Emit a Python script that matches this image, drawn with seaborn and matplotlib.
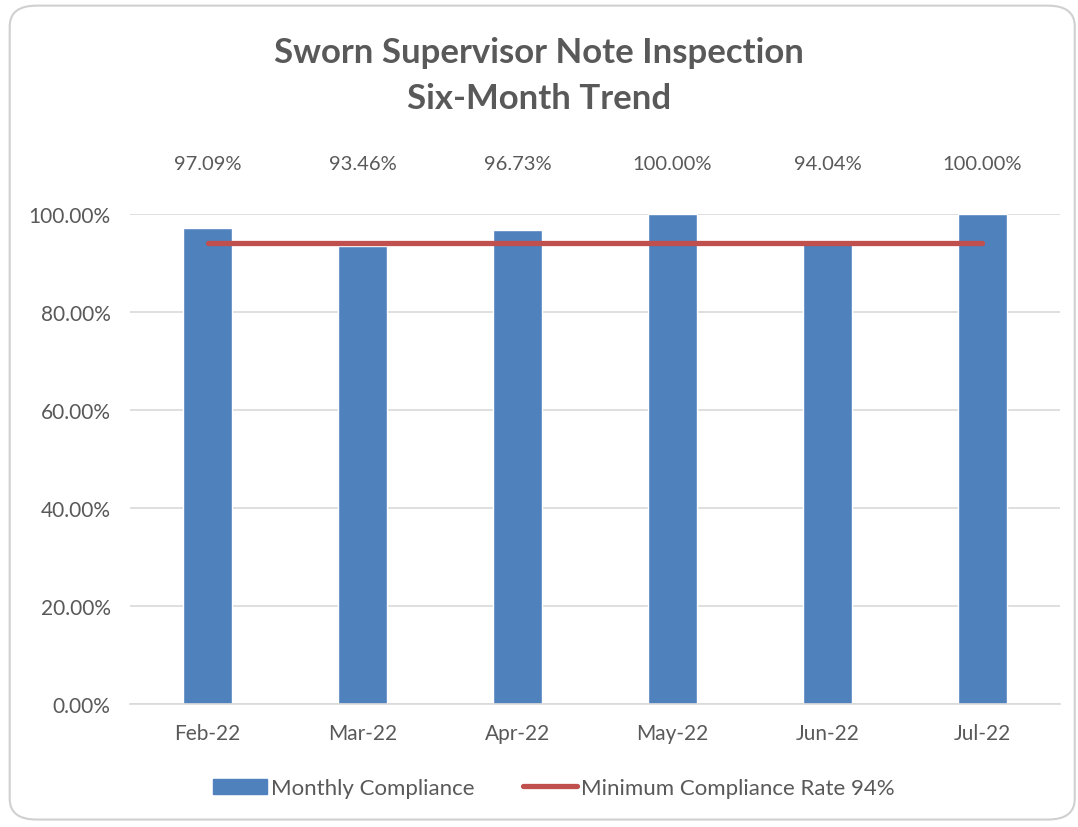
"""
Sworn Supervisor Note Inspection - six-month compliance trend.
"""
import matplotlib
matplotlib.use("Agg")
import matplotlib.pyplot as plt
from matplotlib.patches import FancyBboxPatch, Patch
from matplotlib.lines import Line2D
from matplotlib.ticker import PercentFormatter
import seaborn as sns

months = ["Feb-22", "Mar-22", "Apr-22", "May-22", "Jun-22", "Jul-22"]
compliance = [97.09, 93.46, 96.73, 100.00, 94.04, 100.00]
minimum_rate = [94.0, 94.0, 94.0, 94.0, 94.0, 94.0]
y_ticks = [0, 20, 40, 60, 80, 100]

blue = "#4F81BD"
red = "#C0504D"
gray = "#595959"

sns.set_theme(style="white")
plt.rcParams["font.family"] = ["Lato", "DejaVu Sans"]

fig = plt.figure(figsize=(10.78, 8.28), dpi=100)
ax = fig.add_axes([0.1206, 0.1486, 0.8627, 0.5918])

sns.barplot(x=months, y=compliance, color=blue, saturation=1, width=0.31, ax=ax)
ax.plot(range(len(months)), minimum_rate, color=red, linewidth=3.8,
        solid_capstyle="round", zorder=3)

ax.set_xlim(-0.5, len(months) - 0.5)
ax.set_ylim(0, 100)
ax.set_yticks(y_ticks)
ax.yaxis.set_major_formatter(PercentFormatter(decimals=2))
ax.grid(axis="y", color="#D9D9D9", linewidth=1.2)
ax.set_axisbelow(True)
for side in ["top", "right", "left"]:
    ax.spines[side].set_visible(False)
ax.spines["bottom"].set_color("#D9D9D9")
ax.spines["bottom"].set_linewidth(1.2)
ax.tick_params(axis="both", length=0, colors=gray, labelsize=15)
ax.tick_params(axis="x", pad=14)
ax.tick_params(axis="y", pad=14)
ax.set_xlabel("")
ax.set_ylabel("")

# data labels sit in a row above the plot area
for i, v in enumerate(compliance):
    ax.text(i, 110.2, f"{v:.2f}%", ha="center", va="center",
            color=gray, fontsize=14.5, clip_on=False)

fig.text(0.5, 0.908, "Sworn Supervisor Note Inspection\nSix-Month Trend",
         ha="center", va="center", fontsize=25, fontweight="bold",
         color=gray, linespacing=1.55)

handles = [Patch(facecolor=blue, edgecolor=blue),
           Line2D([0], [0], color=red, linewidth=3.8, solid_capstyle="round")]
fig.legend(handles, ["Monthly Compliance", "Minimum Compliance Rate 94%"],
           loc="center", bbox_to_anchor=(0.514, 0.047), ncol=2, frameon=False,
           fontsize=16, labelcolor=gray, handlelength=2.4, handletextpad=0.2,
           columnspacing=2.2)

border = FancyBboxPatch((0.009, 0.009), 0.988, 0.983,
                        boxstyle="round,pad=0,rounding_size=0.025",
                        transform=fig.transFigure, facecolor="none",
                        edgecolor="#D0D0D0", linewidth=1.5)
fig.patches.append(border)

fig.savefig("out.png", dpi=100)
